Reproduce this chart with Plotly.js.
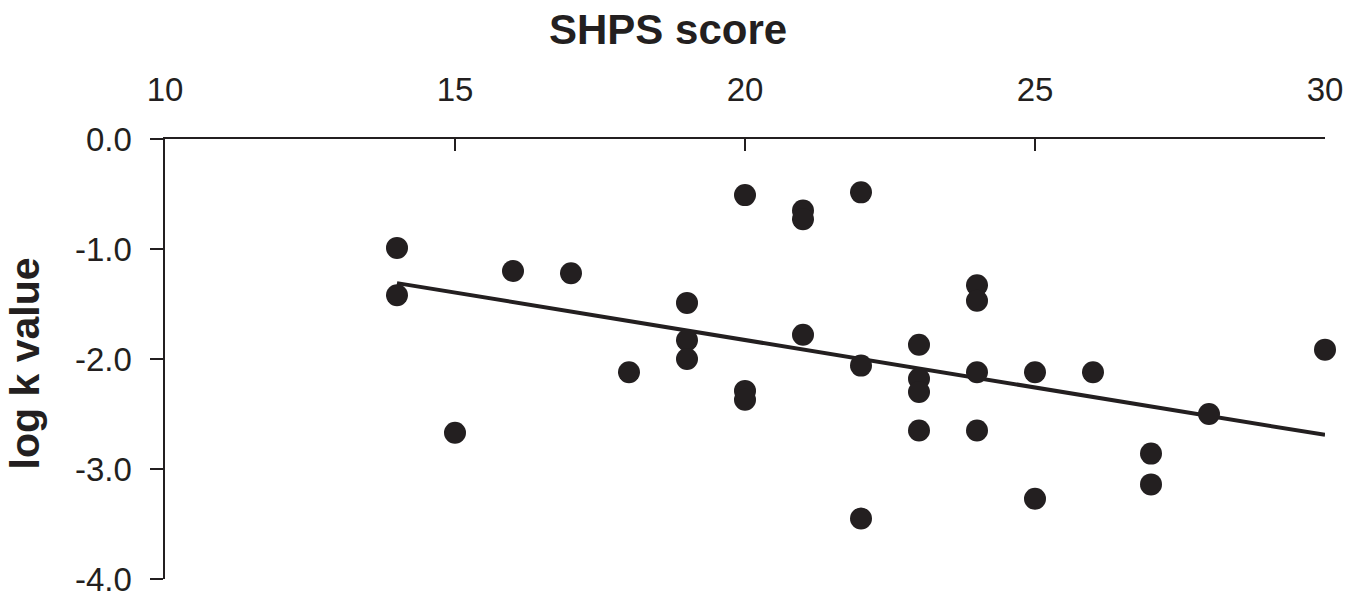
<!DOCTYPE html>
<html>
<head>
<meta charset="utf-8">
<script src="https://cdn.plot.ly/plotly-3.0.1.min.js"></script>
<style>html,body{margin:0;padding:0;background:#fff;}#chart{width:1363px;height:606px;}</style>
</head>
<body>
<div id="chart"></div>
<script>
// SHPS score (x) vs log k value (y)
const shpsScore = [14, 14, 15, 16, 17, 18, 19, 19, 19, 20, 20, 20, 21, 21, 21, 22, 22, 22,
                   23, 23, 23, 23, 24, 24, 24, 24, 25, 25, 26, 27, 27, 28, 30];
const logK = [-0.99, -1.42, -2.67, -1.20, -1.22, -2.12, -1.49, -1.83, -2.00, -0.51, -2.29, -2.37,
              -0.65, -0.73, -1.78, -0.485, -2.06, -3.45, -1.87, -2.18, -2.30, -2.65,
              -1.33, -1.47, -2.12, -2.65, -2.12, -3.27, -2.12, -2.86, -3.14, -2.50, -1.915];
// Regression line end points as drawn
const fitX = [14, 30];
const fitY = [-1.31, -2.69];

const xTicks = [10, 15, 20, 25, 30];
const xTickText = ['10', '15', '20', '25', '30'];
const yTicks = [0, -1, -2, -3, -4];
const yTickText = ['0.0', '-1.0', '-2.0', '-3.0', '-4.0'];

const ink = '#231f20';
const fontFam = '"Liberation Sans", Arial, Helvetica, sans-serif';

const traces = [
  {
    x: fitX, y: fitY, type: 'scatter', mode: 'lines',
    line: {color: ink, width: 4}, hoverinfo: 'skip', showlegend: false
  },
  {
    x: shpsScore, y: logK, type: 'scatter', mode: 'markers',
    marker: {color: ink, size: 22, line: {width: 0}}, showlegend: false, cliponaxis: false
  }
];

const layout = {
  width: 1363, height: 606,
  margin: {l: 165, r: 38, t: 139, b: 27, pad: 0},
  paper_bgcolor: '#ffffff', plot_bgcolor: '#ffffff',
  font: {family: fontFam, color: ink},
  showlegend: false,
  xaxis: {
    side: 'top', range: [10, 30], tickmode: 'array', tickvals: xTicks, ticktext: xTickText,
    ticks: 'inside', ticklen: 12, tickwidth: 2.5, tickcolor: ink,
    showline: true, linecolor: ink, linewidth: 2.5, showgrid: false, zeroline: false,
    tickfont: {size: 33, color: ink, family: fontFam}, ticklabelstandoff: 22,
    fixedrange: true
  },
  yaxis: {
    range: [-4, 0], tickmode: 'array', tickvals: yTicks, ticktext: yTickText,
    ticks: 'outside', ticklen: 13, tickwidth: 2.5, tickcolor: ink,
    showline: true, linecolor: ink, linewidth: 2.5, showgrid: false, zeroline: false,
    tickfont: {size: 33, color: ink, family: fontFam}, ticklabelstandoff: 11,
    fixedrange: true
  },
  annotations: [
    {
      text: '<b>SHPS score</b>', xref: 'paper', yref: 'paper',
      x: 0.434, y: 1 + (139 - 30) / 440, xanchor: 'center', yanchor: 'middle',
      showarrow: false, font: {size: 42, color: ink, family: fontFam}
    },
    {
      text: '<b>log k value</b>', xref: 'paper', yref: 'paper',
      x: (25 - 165) / 1160, y: 0.49, xanchor: 'center', yanchor: 'middle', textangle: -90,
      showarrow: false, font: {size: 41, color: ink, family: fontFam}
    }
  ]
};

Plotly.newPlot('chart', traces, layout, {displayModeBar: false, staticPlot: true});
</script>
</body>
</html>
